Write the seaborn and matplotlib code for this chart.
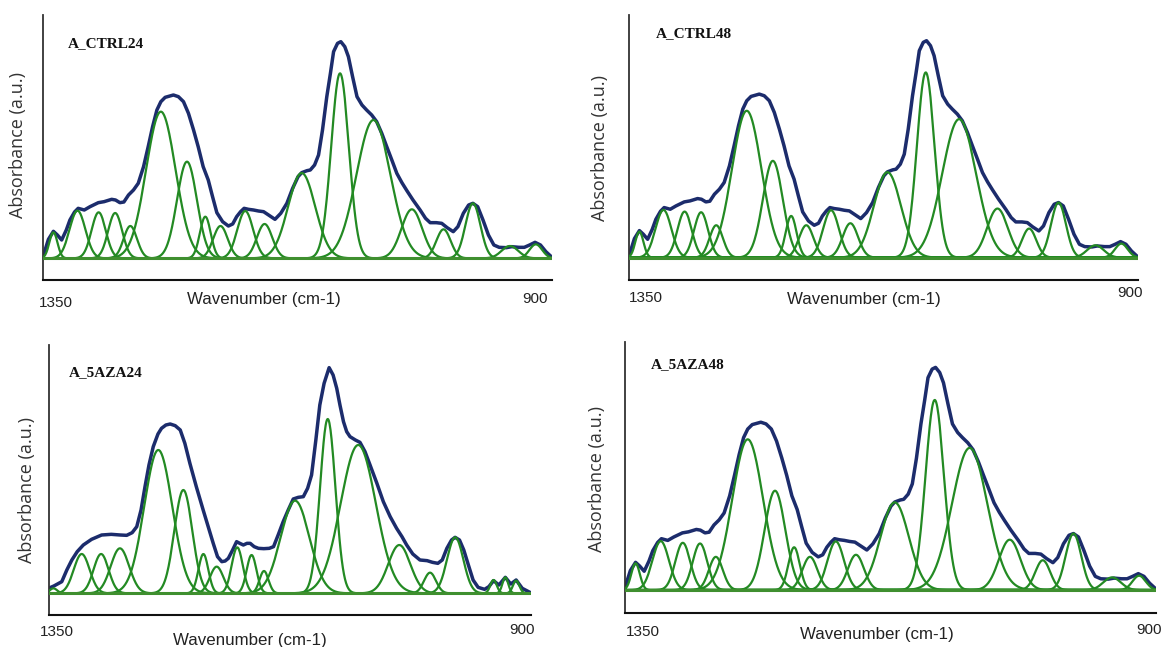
import numpy as np
import pandas as pd
import matplotlib
matplotlib.use("Agg")
import matplotlib.pyplot as plt
import seaborn as sns

sns.set_theme(style="white")
plt.rcParams['font.family'] = ['Liberation Sans', 'DejaVu Sans']

# ---------------- data ----------------
# Fitted band components: centre (cm-1), height (a.u.), sigma (cm-1)
CTRL24_CENTERS = [1340.8, 1319.5, 1300.8, 1286.2, 1272.8, 1245.8, 1222.7, 1206.5, 1193.1, 1171.2,
                  1154.1, 1121.3, 1087.4, 1057.8, 1023.9, 995.9, 969.9, 937.2, 914.3]
CTRL24_HEIGHTS = [0.078, 0.143, 0.138, 0.136, 0.097, 0.440, 0.290, 0.125, 0.097, 0.142,
                  0.103, 0.256, 0.555, 0.415, 0.147, 0.087, 0.165, 0.037, 0.042]
CTRL24_SIGMAS = [3.6, 7.0, 6.3, 6.2, 5.9, 13.0, 8.8, 4.8, 6.4, 7.0,
                 6.8, 12.0, 7.8, 15.0, 9.2, 6.3, 6.6, 7.4, 5.6]

# Measured spectrum (envelope)
CTRL24_ENV_WN = [1350.0, 1345.2, 1340.8, 1337.3, 1333.5, 1329.4, 1326.2, 1322.1, 1318.9, 1313.5,
                 1308.4, 1301.1, 1296.0, 1289.3, 1285.9, 1282.0, 1278.5, 1274.4, 1270.0, 1265.8,
                 1261.1, 1257.0, 1253.1, 1249.3, 1245.8, 1242.0, 1234.7, 1230.3, 1225.8, 1221.4,
                 1216.9, 1212.8, 1208.4, 1203.9, 1200.1, 1196.3, 1191.2, 1186.1, 1182.3, 1178.8,
                 1175.3, 1172.2, 1168.3, 1163.9, 1159.5, 1155.0, 1150.6, 1144.9, 1139.8, 1134.4,
                 1129.3, 1124.5, 1121.3, 1116.6, 1113.7, 1109.9, 1106.4, 1102.9, 1099.1, 1095.9,
                 1093.1, 1089.6, 1086.7, 1083.2, 1080.0, 1076.3, 1072.4, 1068.0, 1063.9, 1059.4,
                 1055.0, 1050.5, 1046.1, 1041.6, 1037.2, 1032.7, 1028.3, 1022.9, 1016.6, 1011.8,
                 1007.7, 1002.3, 997.5, 992.7, 987.3, 983.2, 978.4, 973.7, 969.9, 965.7,
                 961.0, 956.2, 951.4, 946.7, 940.3, 935.6, 929.2, 924.5, 919.8, 915.0,
                 910.2, 905.4, 900.0]
CTRL24_ENV_ABS = [0.005, 0.057, 0.081, 0.070, 0.055, 0.085, 0.115, 0.139, 0.150, 0.145,
                  0.155, 0.167, 0.170, 0.177, 0.175, 0.167, 0.169, 0.190, 0.205, 0.225,
                  0.275, 0.335, 0.395, 0.445, 0.470, 0.483, 0.490, 0.485, 0.470, 0.435,
                  0.385, 0.335, 0.275, 0.235, 0.185, 0.137, 0.110, 0.097, 0.103, 0.125,
                  0.140, 0.150, 0.147, 0.145, 0.142, 0.140, 0.130, 0.117, 0.135, 0.165,
                  0.210, 0.245, 0.257, 0.263, 0.265, 0.280, 0.310, 0.385, 0.485, 0.555,
                  0.620, 0.645, 0.650, 0.635, 0.605, 0.545, 0.485, 0.460, 0.445, 0.430,
                  0.410, 0.375, 0.335, 0.295, 0.255, 0.227, 0.203, 0.175, 0.145, 0.120,
                  0.107, 0.107, 0.105, 0.092, 0.080, 0.095, 0.135, 0.160, 0.165, 0.155,
                  0.115, 0.070, 0.040, 0.033, 0.032, 0.035, 0.033, 0.033, 0.040, 0.048,
                  0.040, 0.020, 0.003]

# A_CTRL48 and A_5AZA48 show the same fitted profile as A_CTRL24 in the figure
CTRL48_CENTERS, CTRL48_HEIGHTS, CTRL48_SIGMAS = CTRL24_CENTERS, CTRL24_HEIGHTS, CTRL24_SIGMAS
CTRL48_ENV_WN, CTRL48_ENV_ABS = CTRL24_ENV_WN, CTRL24_ENV_ABS
AZA48_CENTERS, AZA48_HEIGHTS, AZA48_SIGMAS = CTRL24_CENTERS, CTRL24_HEIGHTS, CTRL24_SIGMAS
AZA48_ENV_WN, AZA48_ENV_ABS = CTRL24_ENV_WN, CTRL24_ENV_ABS

AZA24_CENTERS = [1345.4, 1319.0, 1300.9, 1283.3, 1247.5, 1224.1, 1205.4, 1193.0, 1173.8, 1160.4,
                 1148.8, 1119.8, 1089.3, 1060.8, 1022.5, 993.8, 970.3, 934.5, 923.5, 913.4]
AZA24_HEIGHTS = [0.015, 0.118, 0.118, 0.135, 0.430, 0.310, 0.118, 0.080, 0.138, 0.115,
                 0.067, 0.278, 0.523, 0.445, 0.145, 0.062, 0.168, 0.040, 0.048, 0.038]
AZA24_SIGMAS = [3.4, 7.4, 7.0, 8.6, 13.1, 8.4, 4.6, 6.3, 5.2, 4.6,
                4.2, 13.4, 7.2, 16.4, 10.3, 5.6, 7.6, 3.0, 2.7, 3.0]

AZA24_ENV_WN = [1350.0, 1345.0, 1337.6, 1332.9, 1328.2, 1323.2, 1317.5, 1309.8, 1300.4, 1291.4,
                1283.0, 1277.0, 1271.9, 1267.6, 1263.6, 1259.9, 1256.2, 1252.2, 1247.8, 1244.5,
                1240.4, 1236.4, 1231.7, 1227.0, 1222.7, 1218.0, 1212.0, 1205.6, 1200.9, 1196.2,
                1192.2, 1188.2, 1185.1, 1182.1, 1178.1, 1174.4, 1171.4, 1168.1, 1164.7, 1161.7,
                1158.0, 1154.0, 1149.0, 1143.9, 1139.9, 1135.6, 1130.9, 1126.2, 1121.5, 1116.8,
                1112.1, 1108.1, 1104.4, 1100.4, 1096.7, 1092.7, 1088.0, 1084.3, 1080.9, 1077.9,
                1074.6, 1071.6, 1068.5, 1063.5, 1059.2, 1054.5, 1049.8, 1043.4, 1037.4, 1031.0,
                1025.0, 1020.0, 1015.6, 1009.9, 1003.2, 996.5, 991.5, 986.5, 982.4, 978.1,
                973.7, 970.4, 966.3, 962.3, 958.0, 953.6, 948.9, 942.9, 938.9, 934.5,
                929.5, 923.5, 918.4, 913.4, 907.7, 900.0]
AZA24_ENV_ABS = [0.015, 0.022, 0.035, 0.070, 0.100, 0.125, 0.145, 0.162, 0.175, 0.177,
                 0.175, 0.174, 0.182, 0.200, 0.250, 0.320, 0.385, 0.440, 0.478, 0.495,
                 0.505, 0.508, 0.503, 0.490, 0.450, 0.390, 0.320, 0.250, 0.200, 0.150,
                 0.110, 0.095, 0.097, 0.105, 0.130, 0.155, 0.150, 0.145, 0.150, 0.150,
                 0.140, 0.135, 0.134, 0.135, 0.140, 0.175, 0.215, 0.250, 0.283, 0.288,
                 0.290, 0.315, 0.355, 0.460, 0.565, 0.630, 0.677, 0.655, 0.615, 0.565,
                 0.515, 0.485, 0.470, 0.460, 0.453, 0.425, 0.385, 0.330, 0.275, 0.230,
                 0.195, 0.170, 0.145, 0.118, 0.100, 0.098, 0.093, 0.090, 0.100, 0.135,
                 0.160, 0.168, 0.160, 0.130, 0.085, 0.040, 0.018, 0.012, 0.020, 0.038,
                 0.025, 0.048, 0.028, 0.040, 0.015, 0.002]

TITLES = ["A_CTRL24", "A_CTRL48", "A_5AZA24", "A_5AZA48"]
X_LABEL = "Wavenumber (cm-1)"
Y_LABEL = "Absorbance (a.u.)"
X_START, X_END = 1350, 900

# ---------------- styling / layout ----------------
NAVY = "#1c2c6c"
GREEN = "#238a23"
BASE_GREEN = "#3f8f2f"
W, H = 1161, 647

fig = plt.figure(figsize=(11.61, 6.47), dpi=100)


def rect(x0, x1, y0, y1):
    return [x0 / W, 1 - y1 / H, (x1 - x0) / W, (y1 - y0) / H]


def fx(x):
    return x / W


def fy(y):
    return 1 - y / H


panels = [
    dict(title=TITLES[0], c=CTRL24_CENTERS, h=CTRL24_HEIGHTS, s=CTRL24_SIGMAS,
         ew=CTRL24_ENV_WN, ea=CTRL24_ENV_ABS, rect=(43, 552, 15, 280), ylim=(-0.065, 0.730),
         tpos=(68, 44), lpos=(55.6, 303), rpos=(535, 299), xlpos=(264, 299), ylpos=(18, 145)),
    dict(title=TITLES[1], c=CTRL48_CENTERS, h=CTRL48_HEIGHTS, s=CTRL48_SIGMAS,
         ew=CTRL48_ENV_WN, ea=CTRL48_ENV_ABS, rect=(629, 1137.5, 15, 280), ylim=(-0.067, 0.727),
         tpos=(656, 34), lpos=(646, 298), rpos=(1130, 293), xlpos=(864, 300), ylpos=(600.5, 148)),
    dict(title=TITLES[2], c=AZA24_CENTERS, h=AZA24_HEIGHTS, s=AZA24_SIGMAS,
         ew=AZA24_ENV_WN, ea=AZA24_ENV_ABS, rect=(48.5, 530.5, 345, 615), ylim=(-0.065, 0.745),
         tpos=(69, 373), lpos=(56.5, 632), rpos=(522.5, 630), xlpos=(250, 640), ylpos=(27, 490)),
    dict(title=TITLES[3], c=AZA48_CENTERS, h=AZA48_HEIGHTS, s=AZA48_SIGMAS,
         ew=AZA48_ENV_WN, ea=AZA48_ENV_ABS, rect=(624.7, 1156, 341.7, 612.7), ylim=(-0.066, 0.725),
         tpos=(651, 365), lpos=(643, 632), rpos=(1149, 630), xlpos=(877, 635), ylpos=(597, 479)),
]

grid = np.linspace(X_END, X_START, 900)

for p in panels:
    x0, x1, y0, y1 = p["rect"]
    ax = fig.add_axes(rect(x0, x1, y0, y1))

    # component bands
    rows = []
    for i, (c, h, s) in enumerate(zip(p["c"], p["h"], p["s"])):
        prof = h * np.exp(-0.5 * ((grid - c) / s) ** 2)
        rows.append(pd.DataFrame({"wn": grid, "absorbance": prof, "peak": i}))
    comp = pd.concat(rows, ignore_index=True)

    env = pd.DataFrame({"wn": p["ew"], "absorbance": p["ea"]})
    sns.lineplot(data=env, x="wn", y="absorbance", color=NAVY, lw=2.5,
                 estimator=None, sort=False, ax=ax, zorder=2)
    sns.lineplot(data=comp, x="wn", y="absorbance", units="peak", estimator=None,
                 color=GREEN, lw=1.6, sort=False, ax=ax, zorder=3, legend=False)
    ax.axhline(0, color=BASE_GREEN, lw=2.2, zorder=4)

    ax.set_xlim(X_START, X_END)
    ax.set_ylim(*p["ylim"])
    ax.set_xticks([])
    ax.set_yticks([])
    ax.set_xlabel("")
    ax.set_ylabel("")
    for side in ["top", "right"]:
        ax.spines[side].set_visible(False)
    ax.spines["bottom"].set_color("#111111")
    ax.spines["bottom"].set_linewidth(1.5)
    ax.spines["left"].set_color("#333333")
    ax.spines["left"].set_linewidth(1.3)
    ax.set_facecolor("white")

    fig.text(fx(p["tpos"][0]), fy(p["tpos"][1]), p["title"], ha="left", va="center",
             fontsize=11, fontweight="bold", family=["Liberation Serif", "DejaVu Serif"],
             color="#111111")
    fig.text(fx(p["lpos"][0]), fy(p["lpos"][1]), str(X_START), ha="center", va="center",
             fontsize=11, color="#222222")
    fig.text(fx(p["rpos"][0]), fy(p["rpos"][1]), str(X_END), ha="center", va="center",
             fontsize=11, color="#222222")
    fig.text(fx(p["xlpos"][0]), fy(p["xlpos"][1]), X_LABEL, ha="center", va="center",
             fontsize=12.2, color="#222222")
    fig.text(fx(p["ylpos"][0]), fy(p["ylpos"][1]), Y_LABEL, ha="center", va="center",
             rotation=90, fontsize=13, family=["Open Sans", "DejaVu Sans"], color="#333333")

fig.savefig("out.png", dpi=100, facecolor="white")
